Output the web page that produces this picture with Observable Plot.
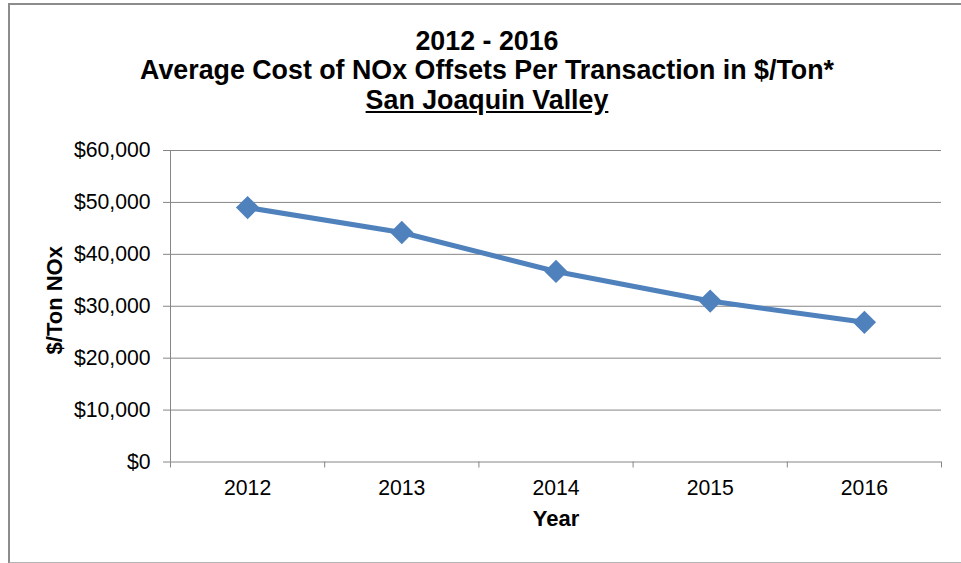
<!DOCTYPE html>
<html><head><meta charset="utf-8">
<script src="https://cdn.jsdelivr.net/npm/d3@7"></script>
<script src="https://cdn.jsdelivr.net/npm/@observablehq/plot@0.6"></script>
<style>
html,body{margin:0;padding:0;background:#fff;overflow:hidden;}
#wrap{position:relative;width:961px;height:563px;font-family:"Liberation Sans",Arial,sans-serif;overflow:hidden;}
#frame{position:absolute;left:8px;top:3px;width:1000px;height:557px;border-left:2px solid #8c8c8c;border-top:2px solid #8c8c8c;border-bottom:2px solid #b4b4b4;}
#title{position:absolute;left:0;width:974px;top:27px;text-align:center;font-weight:bold;font-size:26.8px;line-height:29.3px;color:#000;}
#chart{position:absolute;left:0;top:0;}
</style></head><body>
<div id="wrap"><div id="frame"></div><div id="chart"></div>
<div id="title"><div>2012 - 2016</div><div>Average Cost of NOx Offsets Per Transaction in $/Ton*</div><div><u>San Joaquin Valley</u></div></div></div>
<script>
const years = [2012, 2013, 2014, 2015, 2016];
const cost = [49000, 44200, 36700, 31000, 26900];
const yTicks = [0, 10000, 20000, 30000, 40000, 50000, 60000];
const xDomain = [2011.5, 2016.5];
const xBoundaries = [2011.5, 2012.5, 2013.5, 2014.5, 2015.5, 2016.5];
const xLabel = "Year";
const yLabel = "$/Ton NOx";

const data = years.map((year, i) => ({year, cost: cost[i]}));
const gray = "#868686";
const blue = "#4F81BD";
const fmt = d => "$" + d3.format(",")(d);

const chart = Plot.plot({
  width: 961,
  height: 563,
  marginLeft: 170,
  marginRight: 20,
  marginTop: 150,
  marginBottom: 101.5,
  style: {fontFamily: '"Liberation Sans", Arial, sans-serif', fontSize: "21.2px", color: "#000", background: "transparent"},
  x: {domain: xDomain},
  y: {domain: [0, 60000]},
  marks: [
    Plot.ruleY(yTicks, {stroke: gray, strokeWidth: 1}),
    Plot.ruleX([xDomain[0]], {stroke: gray, strokeWidth: 1}),
    Plot.axisY({ticks: yTicks, tickSize: 7, tickPadding: 13, tickFormat: fmt, stroke: gray, fill: "#000", label: null}),
    Plot.axisX({ticks: xBoundaries, tickSize: 6, tickFormat: () => "", stroke: gray, label: null}),
    Plot.axisX({ticks: years, tickSize: 0, tickPadding: 18, tickFormat: d => String(d), fill: "#000", label: null}),
    Plot.line(data, {x: "year", y: "cost", stroke: blue, strokeWidth: 5, strokeLinejoin: "round"}),
    Plot.dot(data, {x: "year", y: "cost", symbol: "diamond2", r: 10.5, fill: blue, stroke: "none"}),
    Plot.text([xLabel], {text: d => d, frameAnchor: "bottom", lineAnchor: "middle", textAnchor: "middle", dy: 57, fontWeight: "bold", fontSize: 22, fill: "#000"}),
    Plot.text([yLabel], {text: d => d, frameAnchor: "left", lineAnchor: "middle", textAnchor: "middle", rotate: -90, dx: -116, dy: -6, fontWeight: "bold", fontSize: 22, fill: "#000"})
  ]
});
document.getElementById("chart").appendChild(chart);
</script>
</body></html>
